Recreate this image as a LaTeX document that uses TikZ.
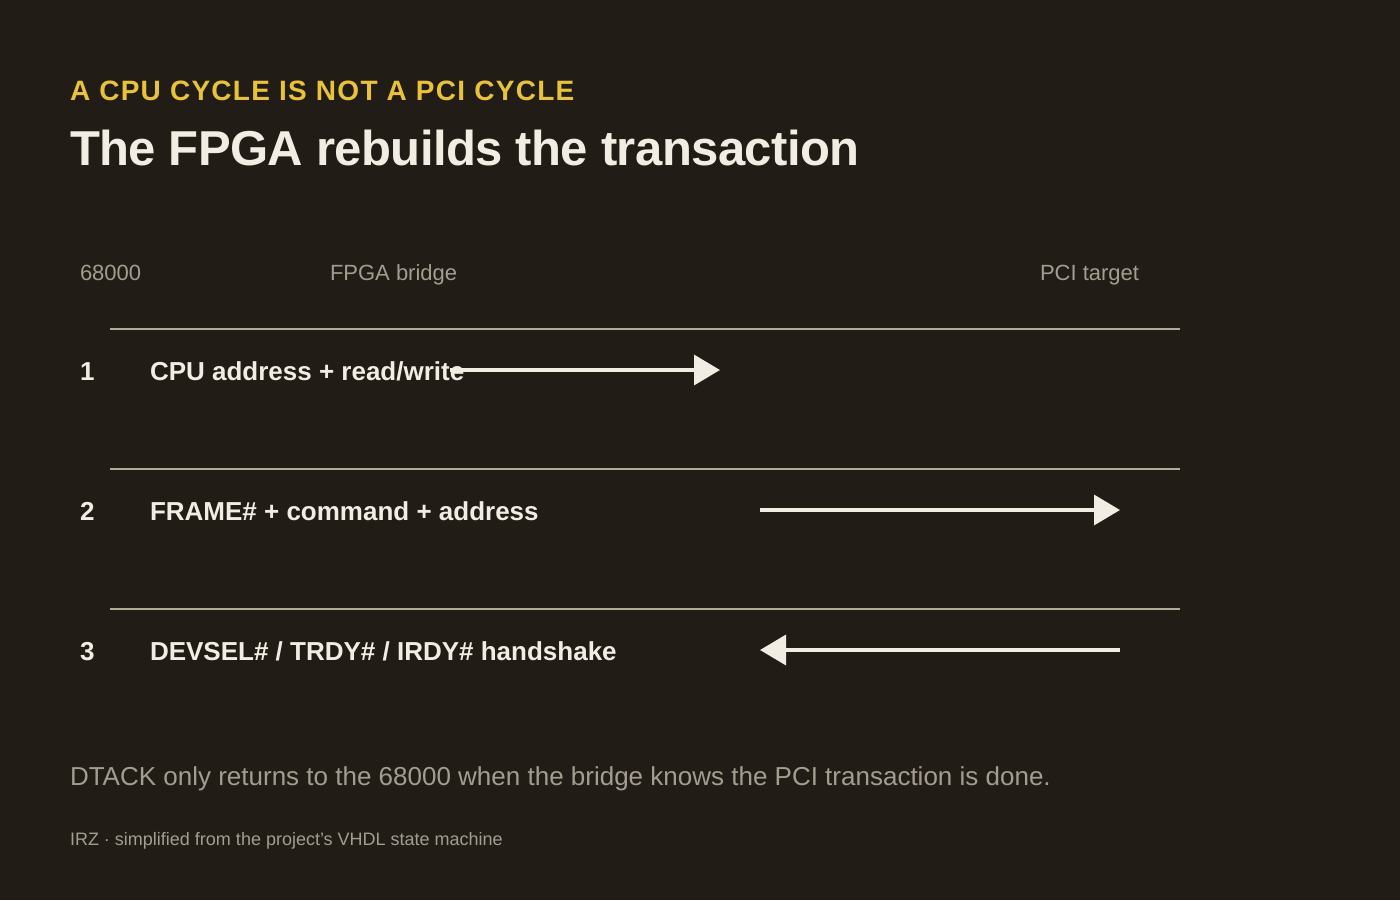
\documentclass[tikz,border=0pt]{standalone}
\usepackage{fontspec}
\setmainfont{Liberation Sans}
\usetikzlibrary{arrows.meta}
\definecolor{bg}{HTML}{221C17}
\definecolor{kick}{HTML}{E8C33A}
\definecolor{ink}{HTML}{F2EDE2}
\definecolor{muted}{HTML}{A39D90}
\definecolor{rule}{HTML}{B3AB9A}
\tikzset{
  txt/.style={anchor=base west, inner sep=0pt, outer sep=0pt},
  colhead/.style={txt, text=muted, font=\fontsize{22}{26}\selectfont},
  rownum/.style={txt, text=ink, font=\bfseries\fontsize{26}{30}\selectfont},
  rowlbl/.style={txt, text=ink, font=\bfseries\fontsize{26}{30}\selectfont},
  sep/.style={draw=rule, line width=1.6pt},
  msg/.style={draw=ink, line width=3.5pt, -{Triangle[length=26pt,width=30pt]}},
}
\begin{document}
\begin{tikzpicture}[x=1pt,y=-1pt]
\fill[bg] (0,0) rectangle (1400,900);
\useasboundingbox (0,0) rectangle (1400,900);
\node[txt, text=kick, font=\bfseries\fontsize{28}{32}\selectfont\addfontfeature{LetterSpace=4.6}] (kicker) at (70,100) {A CPU CYCLE IS NOT A PCI CYCLE};
\node[txt, text=ink, font=\bfseries\fontsize{49}{56}\selectfont\addfontfeature{LetterSpace=-1.2}] (title) at (70,165.5) {The FPGA rebuilds the transaction};
\node[colhead] (h1) at (80,280) {68000};
\node[colhead] (h2) at (330,280) {FPGA bridge};
\node[colhead] (h3) at (1040,280) {PCI target};
% separators
\coordinate (s1a) at (110,329); \coordinate (s1b) at (1180,329);
\coordinate (s2a) at (110,469); \coordinate (s2b) at (1180,469);
\coordinate (s3a) at (110,609); \coordinate (s3b) at (1180,609);
\draw[sep] (s1a) -- (s1b);
\draw[sep] (s2a) -- (s2b);
\draw[sep] (s3a) -- (s3b);
% rows
\node[rownum] (n1) at (80,380) {1};
\node[rowlbl] (l1) at (150,380) {CPU address + read/write};
\node[rownum] (n2) at (80,520) {2};
\node[rowlbl] (l2) at (150,520) {FRAME\# + command + address};
\node[rownum] (n3) at (80,660) {3};
\node[rowlbl] (l3) at (150,660) {DEVSEL\# / TRDY\# / IRDY\# handshake};
% arrows
\coordinate (a1s) at (450,370); \coordinate (a1e) at (720,370);
\coordinate (a2s) at (760,510); \coordinate (a2e) at (1120,510);
\coordinate (a3s) at (1120,650); \coordinate (a3e) at (760,650);
\draw[msg] (a1s) -- (a1e);
\draw[msg] (a2s) -- (a2e);
\draw[msg] (a3s) -- (a3e);
% footer
\node[txt, text=muted, font=\fontsize{26}{30}\selectfont] (note) at (70,785) {DTACK only returns to the 68000 when the bridge knows the PCI transaction is done.};
\node[txt, text=muted, font=\fontsize{18}{22}\selectfont] (src) at (70,845) {IRZ · simplified from the project's VHDL state machine};
\end{tikzpicture}
\end{document}
